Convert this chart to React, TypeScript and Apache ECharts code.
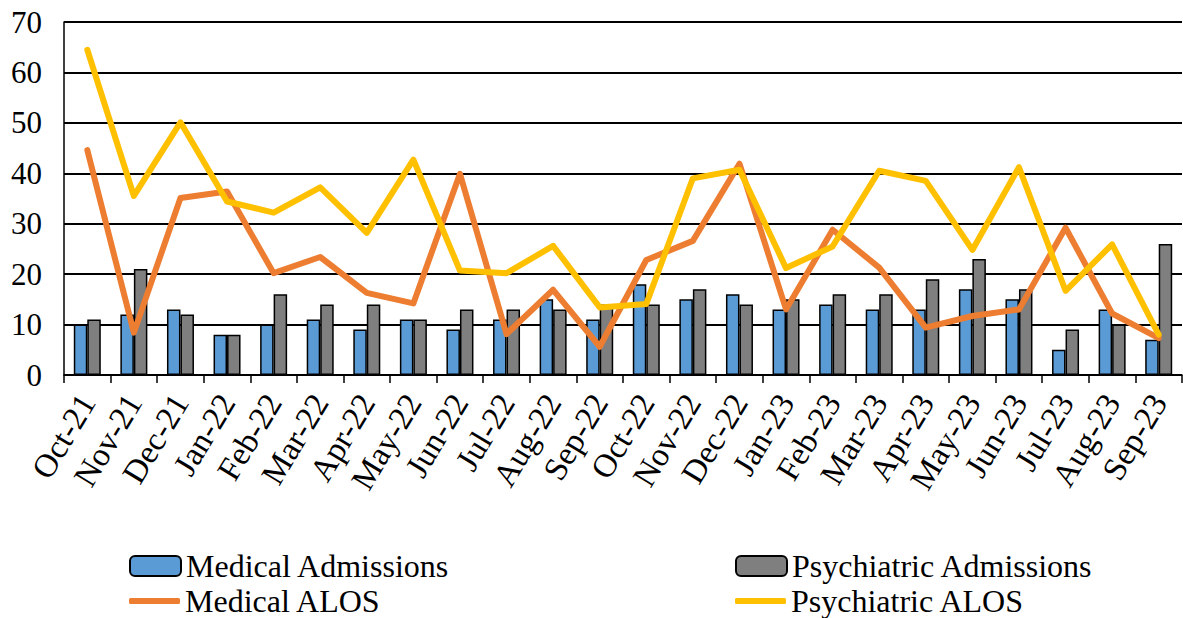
import React, { useEffect, useRef } from "react";
import * as echarts from "echarts";

const categories = [
  "Oct-21", "Nov-21", "Dec-21", "Jan-22", "Feb-22", "Mar-22", "Apr-22", "May-22",
  "Jun-22", "Jul-22", "Aug-22", "Sep-22", "Oct-22", "Nov-22", "Dec-22", "Jan-23",
  "Feb-23", "Mar-23", "Apr-23", "May-23", "Jun-23", "Jul-23", "Aug-23", "Sep-23",
];
const medicalAdmissions = [10, 12, 13, 8, 10, 11, 9, 11, 9, 11, 15, 11, 18, 15, 16, 13, 14, 13, 13, 17, 15, 5, 13, 7];
const psychiatricAdmissions = [11, 21, 12, 8, 16, 14, 14, 11, 13, 13, 13, 14, 14, 17, 14, 15, 16, 16, 19, 23, 17, 9, 10, 26];
const medicalALOS = [44.6, 8.4, 35.1, 36.4, 20.2, 23.4, 16.3, 14.2, 39.9, 8.1, 16.9, 5.6, 22.8, 26.6, 41.9, 13.0, 28.8, 21.3, 9.4, 11.7, 13.0, 29.2, 12.2, 7.3];
const psychiatricALOS = [64.5, 35.5, 50.1, 34.4, 32.2, 37.2, 28.2, 42.7, 20.7, 20.2, 25.6, 13.4, 14.1, 39.0, 40.7, 21.2, 25.5, 40.5, 38.5, 24.8, 41.2, 16.7, 25.9, 8.0];

const FONT = "'Liberation Serif', 'Times New Roman', serif";

export default function App() {
  const ref = useRef<HTMLDivElement>(null);
  useEffect(() => {
    if (!ref.current) return;
    const chart = echarts.init(ref.current, undefined, { renderer: "svg" });
    const legendText = { fontFamily: FONT, fontSize: 32, color: "#000", lineHeight: 30 };
    const mkLegend = (name: string, left: number, top: number, isLine: boolean) => ({
      orient: "horizontal",
      left,
      top,
      padding: 0,
      itemWidth: 51,
      itemHeight: isLine ? 6 : 20,
      itemGap: 0,
      textStyle: legendText,
      data: isLine ? [{ name, icon: "roundRect" }] : [name],
    });
    chart.setOption({
      animation: false,
      grid: { left: 64, right: 1, top: 22, bottom: 243, containLabel: false },
      legend: [
        mkLegend("Medical Admissions", 129, 550, false),
        mkLegend("Medical ALOS", 129, 585, true),
        mkLegend("Psychiatric Admissions", 735, 550, false),
        mkLegend("Psychiatric ALOS", 735, 585, true),
      ],
      xAxis: {
        type: "category",
        data: categories,
        boundaryGap: true,
        axisLine: { lineStyle: { color: "#000", width: 1.5 } },
        axisTick: { show: true, alignWithLabel: false, length: 8, lineStyle: { color: "#000", width: 1.5 } },
        axisLabel: {
          rotate: 59,
          interval: 0,
          margin: 22,
          fontFamily: FONT,
          fontSize: 33,
          color: "#000",
        },
      },
      yAxis: {
        type: "value",
        min: 0,
        max: 70,
        interval: 10,
        axisLine: { show: true, lineStyle: { color: "#000", width: 1.5 } },
        axisTick: { show: false },
        splitLine: { lineStyle: { color: "#000", width: 2 } },
        axisLabel: { fontFamily: FONT, fontSize: 31, color: "#000", margin: 22 },
      },
      series: [
        {
          name: "Medical Admissions",
          type: "bar",
          data: medicalAdmissions,
          barWidth: 13.5,
          barGap: "0%",
          itemStyle: { color: "#5B9BD5", borderColor: "#000", borderWidth: 1.5 },
        },
        {
          name: "Psychiatric Admissions",
          type: "bar",
          data: psychiatricAdmissions,
          barWidth: 13.5,
          barGap: "0%",
          itemStyle: { color: "#7F7F7F", borderColor: "#000", borderWidth: 1.5 },
        },
        {
          name: "Medical ALOS",
          type: "line",
          data: medicalALOS,
          symbol: "none",
          lineStyle: { color: "#ED7D31", width: 6, join: "round", cap: "round" },
          itemStyle: { color: "#ED7D31" },
        },
        {
          name: "Psychiatric ALOS",
          type: "line",
          data: psychiatricALOS,
          symbol: "none",
          lineStyle: { color: "#FFC000", width: 6, join: "round", cap: "round" },
          itemStyle: { color: "#FFC000" },
        },
      ],
    });
    return () => chart.dispose();
  }, []);
  return <div ref={ref} style={{ width: 1183, height: 618, position: "absolute", left: 0, top: 0 }} />;
}
